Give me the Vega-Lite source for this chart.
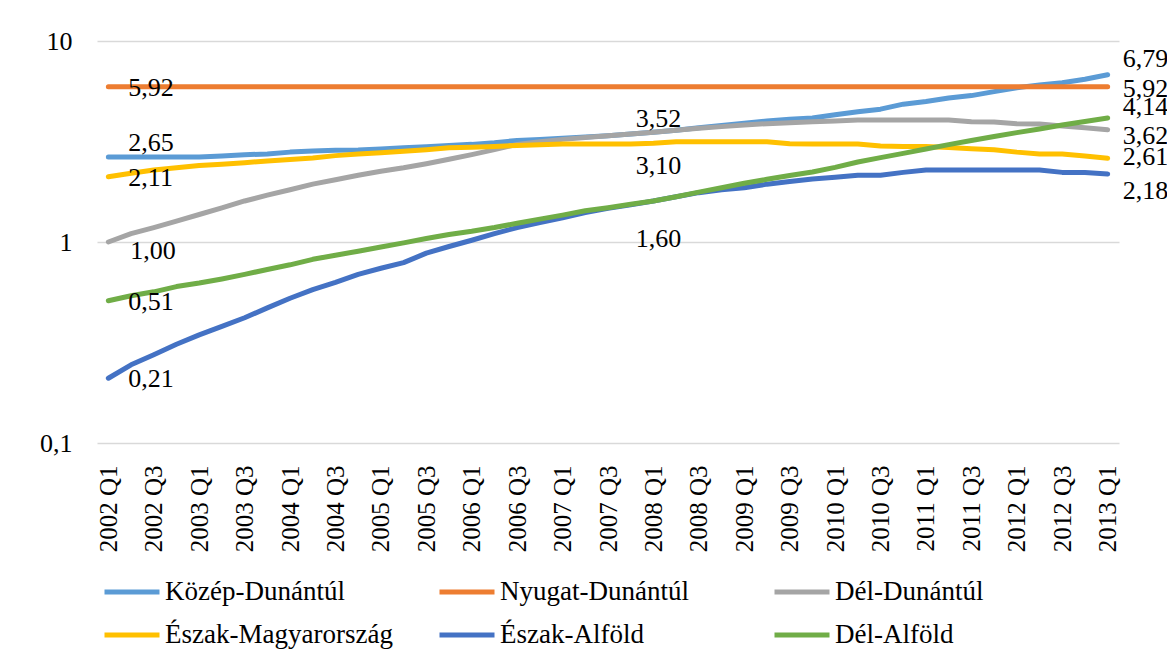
{
  "$schema": "https://vega.github.io/schema/vega-lite/v6.json",
  "width": 1022,
  "height": 402,
  "autosize": {"type": "none"},
  "padding": {"left": 97, "top": 41, "right": 48, "bottom": 221},
  "background": "white",
  "data": {"values": [
    {"q": "2002 Q1", "Közép-Dunántúl": 2.65, "Nyugat-Dunántúl": 5.92, "Dél-Dunántúl": 1.00, "Észak-Magyarország": 2.11, "Észak-Alföld": 0.21, "Dél-Alföld": 0.51},
    {"q": "2002 Q2", "Közép-Dunántúl": 2.65, "Nyugat-Dunántúl": 5.92, "Dél-Dunántúl": 1.10, "Észak-Magyarország": 2.20, "Észak-Alföld": 0.245, "Dél-Alföld": 0.54},
    {"q": "2002 Q3", "Közép-Dunántúl": 2.65, "Nyugat-Dunántúl": 5.92, "Dél-Dunántúl": 1.18, "Észak-Magyarország": 2.28, "Észak-Alföld": 0.275, "Dél-Alföld": 0.565},
    {"q": "2002 Q4", "Közép-Dunántúl": 2.65, "Nyugat-Dunántúl": 5.92, "Dél-Dunántúl": 1.27, "Észak-Magyarország": 2.34, "Észak-Alföld": 0.31, "Dél-Alföld": 0.60},
    {"q": "2003 Q1", "Közép-Dunántúl": 2.65, "Nyugat-Dunántúl": 5.92, "Dél-Dunántúl": 1.37, "Észak-Magyarország": 2.40, "Észak-Alföld": 0.345, "Dél-Alföld": 0.625},
    {"q": "2003 Q2", "Közép-Dunántúl": 2.68, "Nyugat-Dunántúl": 5.92, "Dél-Dunántúl": 1.48, "Észak-Magyarország": 2.44, "Észak-Alföld": 0.38, "Dél-Alföld": 0.655},
    {"q": "2003 Q3", "Közép-Dunántúl": 2.72, "Nyugat-Dunántúl": 5.92, "Dél-Dunántúl": 1.60, "Észak-Magyarország": 2.48, "Észak-Alföld": 0.42, "Dél-Alföld": 0.69},
    {"q": "2003 Q4", "Közép-Dunántúl": 2.74, "Nyugat-Dunántúl": 5.92, "Dél-Dunántúl": 1.71, "Észak-Magyarország": 2.53, "Észak-Alföld": 0.47, "Dél-Alföld": 0.73},
    {"q": "2004 Q1", "Közép-Dunántúl": 2.80, "Nyugat-Dunántúl": 5.92, "Dél-Dunántúl": 1.82, "Észak-Magyarország": 2.57, "Észak-Alföld": 0.525, "Dél-Alföld": 0.77},
    {"q": "2004 Q2", "Közép-Dunántúl": 2.84, "Nyugat-Dunántúl": 5.92, "Dél-Dunántúl": 1.94, "Észak-Magyarország": 2.62, "Észak-Alföld": 0.58, "Dél-Alföld": 0.82},
    {"q": "2004 Q3", "Közép-Dunántúl": 2.86, "Nyugat-Dunántúl": 5.92, "Dél-Dunántúl": 2.04, "Észak-Magyarország": 2.69, "Észak-Alföld": 0.63, "Dél-Alföld": 0.86},
    {"q": "2004 Q4", "Közép-Dunántúl": 2.87, "Nyugat-Dunántúl": 5.92, "Dél-Dunántúl": 2.15, "Észak-Magyarország": 2.74, "Észak-Alföld": 0.69, "Dél-Alföld": 0.90},
    {"q": "2005 Q1", "Közép-Dunántúl": 2.90, "Nyugat-Dunántúl": 5.92, "Dél-Dunántúl": 2.25, "Észak-Magyarország": 2.78, "Észak-Alföld": 0.74, "Dél-Alföld": 0.945},
    {"q": "2005 Q2", "Közép-Dunántúl": 2.94, "Nyugat-Dunántúl": 5.92, "Dél-Dunántúl": 2.34, "Észak-Magyarország": 2.83, "Észak-Alföld": 0.79, "Dél-Alföld": 0.99},
    {"q": "2005 Q3", "Közép-Dunántúl": 2.98, "Nyugat-Dunántúl": 5.92, "Dél-Dunántúl": 2.45, "Észak-Magyarország": 2.88, "Észak-Alföld": 0.88, "Dél-Alföld": 1.04},
    {"q": "2005 Q4", "Közép-Dunántúl": 3.02, "Nyugat-Dunántúl": 5.92, "Dél-Dunántúl": 2.58, "Észak-Magyarország": 2.94, "Észak-Alföld": 0.95, "Dél-Alföld": 1.09},
    {"q": "2006 Q1", "Közép-Dunántúl": 3.06, "Nyugat-Dunántúl": 5.92, "Dél-Dunántúl": 2.72, "Észak-Magyarország": 2.96, "Észak-Alföld": 1.02, "Dél-Alföld": 1.13},
    {"q": "2006 Q2", "Közép-Dunántúl": 3.12, "Nyugat-Dunántúl": 5.92, "Dél-Dunántúl": 2.88, "Észak-Magyarország": 2.99, "Észak-Alföld": 1.10, "Dél-Alföld": 1.18},
    {"q": "2006 Q3", "Közép-Dunántúl": 3.20, "Nyugat-Dunántúl": 5.92, "Dél-Dunántúl": 3.06, "Észak-Magyarország": 3.02, "Észak-Alföld": 1.18, "Dél-Alföld": 1.24},
    {"q": "2006 Q4", "Közép-Dunántúl": 3.24, "Nyugat-Dunántúl": 5.92, "Dél-Dunántúl": 3.15, "Észak-Magyarország": 3.05, "Észak-Alföld": 1.25, "Dél-Alföld": 1.30},
    {"q": "2007 Q1", "Közép-Dunántúl": 3.28, "Nyugat-Dunántúl": 5.92, "Dél-Dunántúl": 3.24, "Észak-Magyarország": 3.07, "Észak-Alföld": 1.32, "Dél-Alföld": 1.36},
    {"q": "2007 Q2", "Közép-Dunántúl": 3.33, "Nyugat-Dunántúl": 5.92, "Dél-Dunántúl": 3.31, "Észak-Magyarország": 3.07, "Észak-Alföld": 1.40, "Dél-Alföld": 1.43},
    {"q": "2007 Q3", "Közép-Dunántúl": 3.38, "Nyugat-Dunántúl": 5.92, "Dél-Dunántúl": 3.38, "Észak-Magyarország": 3.07, "Észak-Alföld": 1.47, "Dél-Alföld": 1.48},
    {"q": "2007 Q4", "Közép-Dunántúl": 3.45, "Nyugat-Dunántúl": 5.92, "Dél-Dunántúl": 3.45, "Észak-Magyarország": 3.07, "Észak-Alföld": 1.53, "Dél-Alföld": 1.54},
    {"q": "2008 Q1", "Közép-Dunántúl": 3.52, "Nyugat-Dunántúl": 5.92, "Dél-Dunántúl": 3.52, "Észak-Magyarország": 3.10, "Észak-Alföld": 1.60, "Dél-Alföld": 1.60},
    {"q": "2008 Q2", "Közép-Dunántúl": 3.60, "Nyugat-Dunántúl": 5.92, "Dél-Dunántúl": 3.60, "Észak-Magyarország": 3.15, "Észak-Alföld": 1.68, "Dél-Alföld": 1.68},
    {"q": "2008 Q3", "Közép-Dunántúl": 3.70, "Nyugat-Dunántúl": 5.92, "Dél-Dunántúl": 3.68, "Észak-Magyarország": 3.15, "Észak-Alföld": 1.76, "Dél-Alföld": 1.77},
    {"q": "2008 Q4", "Közép-Dunántúl": 3.80, "Nyugat-Dunántúl": 5.92, "Dél-Dunántúl": 3.75, "Észak-Magyarország": 3.15, "Észak-Alföld": 1.82, "Dél-Alföld": 1.86},
    {"q": "2009 Q1", "Közép-Dunántúl": 3.90, "Nyugat-Dunántúl": 5.92, "Dél-Dunántúl": 3.82, "Észak-Magyarország": 3.15, "Észak-Alföld": 1.86, "Dél-Alföld": 1.96},
    {"q": "2009 Q2", "Közép-Dunántúl": 4.00, "Nyugat-Dunántúl": 5.92, "Dél-Dunántúl": 3.88, "Észak-Magyarország": 3.15, "Észak-Alföld": 1.94, "Dél-Alföld": 2.05},
    {"q": "2009 Q3", "Közép-Dunántúl": 4.08, "Nyugat-Dunántúl": 5.92, "Dél-Dunántúl": 3.92, "Észak-Magyarország": 3.08, "Észak-Alföld": 2.00, "Dél-Alföld": 2.14},
    {"q": "2009 Q4", "Közép-Dunántúl": 4.14, "Nyugat-Dunántúl": 5.92, "Dél-Dunántúl": 3.96, "Észak-Magyarország": 3.07, "Észak-Alföld": 2.06, "Dél-Alföld": 2.23},
    {"q": "2010 Q1", "Közép-Dunántúl": 4.30, "Nyugat-Dunántúl": 5.92, "Dél-Dunántúl": 4.00, "Észak-Magyarország": 3.07, "Észak-Alföld": 2.10, "Dél-Alföld": 2.35},
    {"q": "2010 Q2", "Közép-Dunántúl": 4.45, "Nyugat-Dunántúl": 5.92, "Dél-Dunántúl": 4.05, "Észak-Magyarország": 3.07, "Észak-Alföld": 2.15, "Dél-Alföld": 2.50},
    {"q": "2010 Q3", "Közép-Dunántúl": 4.58, "Nyugat-Dunántúl": 5.92, "Dél-Dunántúl": 4.05, "Észak-Magyarország": 3.00, "Észak-Alföld": 2.15, "Dél-Alföld": 2.63},
    {"q": "2010 Q4", "Közép-Dunántúl": 4.85, "Nyugat-Dunántúl": 5.92, "Dél-Dunántúl": 4.05, "Észak-Magyarország": 2.99, "Észak-Alföld": 2.22, "Dél-Alföld": 2.76},
    {"q": "2011 Q1", "Közép-Dunántúl": 5.00, "Nyugat-Dunántúl": 5.92, "Dél-Dunántúl": 4.05, "Észak-Magyarország": 2.99, "Észak-Alföld": 2.28, "Dél-Alföld": 2.90},
    {"q": "2011 Q2", "Közép-Dunántúl": 5.20, "Nyugat-Dunántúl": 5.92, "Dél-Dunántúl": 4.05, "Észak-Magyarország": 2.95, "Észak-Alföld": 2.28, "Dél-Alföld": 3.05},
    {"q": "2011 Q3", "Közép-Dunántúl": 5.35, "Nyugat-Dunántúl": 5.92, "Dél-Dunántúl": 3.96, "Észak-Magyarország": 2.91, "Észak-Alföld": 2.28, "Dél-Alföld": 3.20},
    {"q": "2011 Q4", "Közép-Dunántúl": 5.60, "Nyugat-Dunántúl": 5.92, "Dél-Dunántúl": 3.95, "Észak-Magyarország": 2.88, "Észak-Alföld": 2.28, "Dél-Alföld": 3.35},
    {"q": "2012 Q1", "Közép-Dunántúl": 5.85, "Nyugat-Dunántúl": 5.92, "Dél-Dunántúl": 3.88, "Észak-Magyarország": 2.80, "Észak-Alföld": 2.28, "Dél-Alföld": 3.50},
    {"q": "2012 Q2", "Közép-Dunántúl": 6.05, "Nyugat-Dunántúl": 5.92, "Dél-Dunántúl": 3.86, "Észak-Magyarország": 2.74, "Észak-Alföld": 2.28, "Dél-Alföld": 3.65},
    {"q": "2012 Q3", "Közép-Dunántúl": 6.20, "Nyugat-Dunántúl": 5.92, "Dél-Dunántúl": 3.78, "Észak-Magyarország": 2.74, "Észak-Alföld": 2.22, "Dél-Alföld": 3.82},
    {"q": "2012 Q4", "Közép-Dunántúl": 6.45, "Nyugat-Dunántúl": 5.92, "Dél-Dunántúl": 3.70, "Észak-Magyarország": 2.68, "Észak-Alföld": 2.22, "Dél-Alföld": 3.98},
    {"q": "2013 Q1", "Közép-Dunántúl": 6.79, "Nyugat-Dunántúl": 5.92, "Dél-Dunántúl": 3.62, "Észak-Magyarország": 2.61, "Észak-Alföld": 2.18, "Dél-Alföld": 4.14}
  ]},
  "transform": [
    {"fold": ["Közép-Dunántúl", "Nyugat-Dunántúl", "Dél-Dunántúl", "Észak-Magyarország", "Észak-Alföld", "Dél-Alföld"], "as": ["r", "v"]}
  ],
  "encoding": {
    "x": {
      "field": "q", "type": "ordinal", "sort": null,
      "scale": {"type": "point", "padding": 0.5},
      "axis": {
        "title": null, "labelAngle": -90, "labelPadding": 22, "labelFontSize": 25,
        "domain": false, "ticks": false, "grid": false,
        "values": ["2002 Q1","2002 Q3","2003 Q1","2003 Q3","2004 Q1","2004 Q3","2005 Q1","2005 Q3","2006 Q1","2006 Q3","2007 Q1","2007 Q3","2008 Q1","2008 Q3","2009 Q1","2009 Q3","2010 Q1","2010 Q3","2011 Q1","2011 Q3","2012 Q1","2012 Q3","2013 Q1"]
      }
    },
    "y": {
      "field": "v", "type": "quantitative",
      "scale": {"type": "log", "domain": [0.1, 10], "nice": false},
      "axis": {
        "title": null, "values": [0.1, 1, 10], "format": "~g", "labelPadding": 25, "labelFontSize": 26,
        "domain": false, "ticks": false, "grid": true, "gridColor": "#D9D9D9", "gridWidth": 1.5
      }
    }
  },
  "layer": [
    {
      "mark": {"type": "line", "strokeWidth": 5, "strokeCap": "round", "strokeJoin": "round"},
      "encoding": {
        "color": {
          "field": "r", "type": "nominal",
          "scale": {
            "domain": ["Közép-Dunántúl", "Nyugat-Dunántúl", "Dél-Dunántúl", "Észak-Magyarország", "Észak-Alföld", "Dél-Alföld"],
            "range": ["#5B9BD5", "#ED7D31", "#A5A5A5", "#FFC000", "#4472C4", "#70AD47"]
          },
          "legend": {
            "title": null, "orient": "none", "legendX": 5, "legendY": 521,
            "direction": "horizontal", "columns": 3, "gridAlign": "all",
            "symbolType": "stroke", "symbolSize": 3025, "symbolStrokeWidth": 5,
            "labelFont": "Liberation Serif", "labelFontSize": 27, "labelColor": "#000000",
            "labelOffset": 3, "labelLimit": 400, "columnPadding": 36, "rowPadding": -11
          }
        }
      }
    },
    {"transform": [{"filter": "datum.q == '2002 Q1' && (datum.r == 'Nyugat-Dunántúl' || datum.r == 'Észak-Magyarország' || datum.r == 'Dél-Alföld' || datum.r == 'Észak-Alföld')"}],
     "mark": {"type": "text", "dx": 20, "dy": 1},
     "encoding": {"text": {"field": "v", "type": "quantitative", "format": ".2f"}}},
    {"transform": [{"filter": "datum.q == '2002 Q1' && datum.r == 'Közép-Dunántúl'"}],
     "mark": {"type": "text", "dx": 20, "dy": -14},
     "encoding": {"text": {"field": "v", "type": "quantitative", "format": ".2f"}}},
    {"transform": [{"filter": "datum.q == '2002 Q1' && datum.r == 'Dél-Dunántúl'"}],
     "mark": {"type": "text", "dx": 22, "dy": 9},
     "encoding": {"text": {"field": "v", "type": "quantitative", "format": ".2f"}}},
    {"transform": [{"filter": "datum.q == '2008 Q1' && datum.r == 'Dél-Dunántúl'"}],
     "mark": {"type": "text", "align": "center", "dx": 5, "dy": -13},
     "encoding": {"text": {"field": "v", "type": "quantitative", "format": ".2f"}}},
    {"transform": [{"filter": "datum.q == '2008 Q1' && datum.r == 'Észak-Magyarország'"}],
     "mark": {"type": "text", "align": "center", "dx": 5, "dy": 23},
     "encoding": {"text": {"field": "v", "type": "quantitative", "format": ".2f"}}},
    {"transform": [{"filter": "datum.q == '2008 Q1' && datum.r == 'Észak-Alföld'"}],
     "mark": {"type": "text", "align": "center", "dx": 5, "dy": 38},
     "encoding": {"text": {"field": "v", "type": "quantitative", "format": ".2f"}}},
    {"transform": [{"filter": "datum.q == '2013 Q1' && datum.r == 'Közép-Dunántúl'"}],
     "mark": {"type": "text", "dx": 15, "dy": -16},
     "encoding": {"text": {"field": "v", "type": "quantitative", "format": ".2f"}}},
    {"transform": [{"filter": "datum.q == '2013 Q1' && datum.r == 'Nyugat-Dunántúl'"}],
     "mark": {"type": "text", "dx": 15, "dy": 2},
     "encoding": {"text": {"field": "v", "type": "quantitative", "format": ".2f"}}},
    {"transform": [{"filter": "datum.q == '2013 Q1' && datum.r == 'Dél-Alföld'"}],
     "mark": {"type": "text", "dx": 15, "dy": -11},
     "encoding": {"text": {"field": "v", "type": "quantitative", "format": ".2f"}}},
    {"transform": [{"filter": "datum.q == '2013 Q1' && datum.r == 'Dél-Dunántúl'"}],
     "mark": {"type": "text", "dx": 15, "dy": 6},
     "encoding": {"text": {"field": "v", "type": "quantitative", "format": ".2f"}}},
    {"transform": [{"filter": "datum.q == '2013 Q1' && datum.r == 'Észak-Magyarország'"}],
     "mark": {"type": "text", "dx": 15, "dy": -1},
     "encoding": {"text": {"field": "v", "type": "quantitative", "format": ".2f"}}},
    {"transform": [{"filter": "datum.q == '2013 Q1' && datum.r == 'Észak-Alföld'"}],
     "mark": {"type": "text", "dx": 15, "dy": 17},
     "encoding": {"text": {"field": "v", "type": "quantitative", "format": ".2f"}}}
  ],
  "config": {
    "font": "Liberation Serif",
    "locale": {"number": {"decimal": ",", "thousands": " ", "grouping": [3], "currency": ["", " Ft"]}},
    "view": {"stroke": null},
    "axis": {"labelFont": "Liberation Serif", "labelColor": "#000000"},
    "text": {"font": "Liberation Serif", "fontSize": 26, "align": "left", "baseline": "middle", "color": "#000000"}
  }
}
